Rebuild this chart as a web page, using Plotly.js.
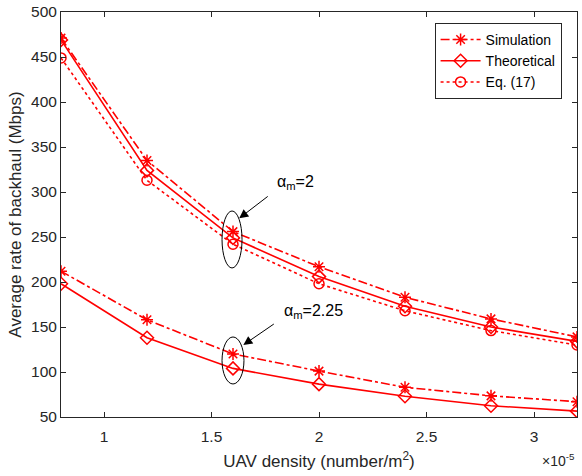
<!DOCTYPE html>
<html>
<head>
<meta charset="utf-8">
<script src="https://cdn.plot.ly/plotly-3.0.1.min.js"></script>
<style>html,body{margin:0;padding:0;background:#fff;}#chart{width:582px;height:476px;}</style>
</head>
<body>
<div id="chart"></div>
<script>
// UAV density (x 1e-5 number/m^2)
const density = [0.8, 1.2, 1.6, 2.0, 2.4, 2.8, 3.2];
// alpha_m = 2
const simA2 = [471, 335, 256, 217, 183, 159, 139];
const theoA2 = [469, 324, 249, 206, 173, 150, 134];
const eqA2 = [449, 313, 242, 198, 168, 146, 130];
// alpha_m = 2.25
const simA225 = [212, 158, 120, 101, 83, 73.5, 67];
const theoA225 = [198, 138, 104, 86.5, 73, 62.5, 56.5];

const seriesNames = ['Simulation', 'Theoretical', 'Eq. (17)'];
const xTicks = [1, 1.5, 2, 2.5, 3];
const yTicks = [50, 100, 150, 200, 250, 300, 350, 400, 450, 500];

const red = '#ff0000';
const axisCol = '#262626';
const fnt = 'Liberation Sans, Arial, Helvetica, sans-serif';

function tr(y, name, dash, symbol, showleg, group) {
  return {
    x: density, y: y, name: name, legendgroup: group, showlegend: showleg,
    type: 'scatter', mode: 'lines+markers',
    line: {color: red, width: 1.6, dash: dash},
    marker: {symbol: symbol, size: 10, color: red, line: {color: red, width: 1.5}}
  };
}

const data = [
  tr(simA2, seriesNames[0], 'dashdot', 'asterisk-open', true, 'sim'),
  tr(theoA2, seriesNames[1], 'solid', 'diamond-open', true, 'theo'),
  tr(eqA2, seriesNames[2], 'dot', 'circle-open', true, 'eq'),
  tr(simA225, seriesNames[0], 'dashdot', 'asterisk-open', false, 'sim'),
  tr(theoA225, seriesNames[1], 'solid', 'diamond-open', false, 'theo')
];

const layout = {
  width: 582, height: 476,
  margin: {l: 61, r: 5, t: 12, b: 59},
  paper_bgcolor: '#fff', plot_bgcolor: '#fff',
  font: {family: fnt, size: 15, color: axisCol},
  xaxis: {
    range: [0.8, 3.2], tickvals: xTicks, ticktext: xTicks.map(String),
    ticks: 'inside', ticklen: 5, tickcolor: axisCol, showline: true, linecolor: axisCol, linewidth: 1,
    mirror: 'allticks', showgrid: false, zeroline: false, ticklabelstandoff: 5,
    tickfont: {family: fnt, size: 15.5, color: axisCol},
    title: {text: 'UAV density (number/m<sup>2</sup>)', font: {family: fnt, size: 17, color: axisCol}, standoff: 11}
  },
  yaxis: {
    range: [50, 500], tickvals: yTicks,
    ticks: 'inside', ticklen: 5, tickcolor: axisCol, showline: true, linecolor: axisCol, linewidth: 1,
    mirror: 'allticks', showgrid: false, zeroline: false,
    tickfont: {family: fnt, size: 15.5, color: axisCol},
    title: {text: 'Average rate of backhaul (Mbps)', font: {family: fnt, size: 17, color: axisCol}, standoff: 5}
  },
  legend: {
    x: 0.724, y: 0.973, xanchor: 'left', yanchor: 'top',
    bgcolor: '#fff', bordercolor: axisCol, borderwidth: 1,
    font: {family: fnt, size: 14, color: '#000'}, itemwidth: 40, tracegroupgap: 0
  },
  shapes: [
    {type: 'circle', xref: 'x', yref: 'y', x0: 1.549, x1: 1.642, y0: 215.6, y1: 278.9, line: {color: '#000', width: 1}},
    {type: 'circle', xref: 'x', yref: 'y', x0: 1.549, x1: 1.651, y0: 86.7, y1: 138.9, line: {color: '#000', width: 1}}
  ],
  annotations: [
    {x: 1.629, y: 270.8, xref: 'x', yref: 'y', text: '', showarrow: true, ax: 30, ay: -23,
     arrowhead: 2, arrowsize: 1.8, arrowwidth: 1, arrowcolor: '#000', standoff: 0, startstandoff: 0},
    {x: 1.648, y: 130, xref: 'x', yref: 'y', text: '', showarrow: true, ax: 32, ay: -22,
     arrowhead: 2, arrowsize: 1.8, arrowwidth: 1, arrowcolor: '#000', standoff: 0, startstandoff: 0},
    {x: 1.795, y: 311, xref: 'x', yref: 'y', text: 'α<sub>m</sub>=2', showarrow: false,
     xanchor: 'left', yanchor: 'middle', font: {family: fnt, size: 16, color: '#000'}},
    {x: 1.827, y: 167, xref: 'x', yref: 'y', text: 'α<sub>m</sub>=2.25', showarrow: false,
     xanchor: 'left', yanchor: 'middle', font: {family: fnt, size: 16, color: '#000'}},
    {x: 1, y: -0.078, xref: 'paper', yref: 'paper', text: '×10<sup>-5</sup>', showarrow: false,
     xanchor: 'right', yanchor: 'top', font: {family: fnt, size: 14, color: axisCol}}
  ]
};

Plotly.newPlot('chart', data, layout, {displayModeBar: false, staticPlot: true});
</script>
</body>
</html>
